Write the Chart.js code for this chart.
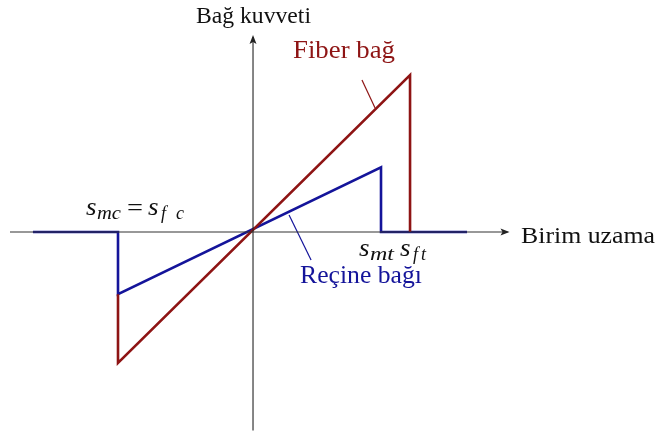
<!DOCTYPE html>
<html lang="tr">
<head>
<meta charset="UTF-8">
<title>Bağ kuvveti - birim uzama</title>
<script src="https://cdn.jsdelivr.net/npm/chart.js@4.4.1/dist/chart.umd.min.js"></script>
<style>
  body { margin: 0; background: #fff; }
  .wrap { width: 659px; height: 432px; position: relative; }
</style>
</head>
<body>
<div class="wrap"><canvas id="c"></canvas></div>
<script>
// strain values (x) and bond force values (y)
const fiberX = [-1.0, -1.0, 1.163, 1.163];
const fiberY = [-0.46, -0.97, 1.163, 0.0];
const resinX = [-1.63, -1.0, -1.0, 0.948, 0.948, 1.585];
const resinY = [0.0, 0.0, -0.46, 0.48, 0.0, 0.0];

// axis extents
const axisX = [-1.80, 1.885];
const axisY = [-1.47, 1.445];

// leader lines from the curves to their labels
const fiberLeadX = [0.807, 0.904];
const fiberLeadY = [1.126, 0.919];
const resinLeadX = [0.267, 0.43];
const resinLeadY = [0.126, -0.207];

const RED = '#8e1414';
const BLUE = '#14149a';
const INK = '#111';
const SERIF = "'Liberation Serif', 'DejaVu Serif', serif";

const pts = (xs, ys) => xs.map((x, i) => ({ x: x, y: ys[i] }));

const line = (data, color, width) => ({
  data: data,
  showLine: true,
  borderColor: color,
  borderWidth: width,
  pointRadius: 0,
  fill: false,
  tension: 0
});

// arrow tips and text labels
const annotate = {
  id: 'annotate',
  afterDatasetsDraw(chart) {
    const ctx = chart.ctx;
    const sx = chart.scales.x, sy = chart.scales.y;
    const px = v => sx.getPixelForValue(v);
    const py = v => sy.getPixelForValue(v);

    ctx.save();
    ctx.fillStyle = '#222';
    // x arrow
    let ex = px(axisX[1]), ey = py(0);
    ctx.beginPath();
    ctx.moveTo(ex + 2, ey);
    ctx.lineTo(ex - 7, ey - 3.5);
    ctx.lineTo(ex - 5, ey);
    ctx.lineTo(ex - 7, ey + 3.5);
    ctx.closePath();
    ctx.fill();
    // y arrow
    ex = px(0); ey = py(axisY[1]);
    ctx.beginPath();
    ctx.moveTo(ex, ey - 2);
    ctx.lineTo(ex - 3.5, ey + 7);
    ctx.lineTo(ex, ey + 5);
    ctx.lineTo(ex + 3.5, ey + 7);
    ctx.closePath();
    ctx.fill();

    // text scaled sideways to a given width
    const fit = (s, x, y, w, font, color) => {
      ctx.font = font;
      ctx.fillStyle = color || INK;
      ctx.textAlign = 'left';
      ctx.textBaseline = 'alphabetic';
      const k = w / ctx.measureText(s).width;
      ctx.save();
      ctx.translate(x, y);
      ctx.scale(k, 1);
      ctx.fillText(s, 0, 0);
      ctx.restore();
    };

    fit('Bağ kuvveti', px(0) - 57, py(1.548), 115, '24px ' + SERIF, INK);
    fit('Birim uzama', px(1.985), py(-0.082), 134, '24px ' + SERIF, INK);
    fit('Fiber bağ', px(0.296), py(1.289), 102, '25px ' + SERIF, RED);
    fit('Reçine bağı', px(0.348), py(-0.378), 122, '25px ' + SERIF, BLUE);

    const IT = 'italic 25px ' + SERIF;
    const SUB = 'italic 18px ' + SERIF;

    // s_m? : subscript written as one piece
    const symM = (sub, x, y) => {
      fit('s', x, y, 10.5, IT);
      fit(sub, x + 11, y + 4, 24, SUB);
    };
    // s_f? : math f keeps a small gap before the next letter
    const symF = (c2, x, y, gap) => {
      fit('s', x, y, 10.5, IT);
      ctx.font = SUB;
      ctx.fillText('f', x + 13, y + 4);
      ctx.fillText(c2, x + gap, y + 4);
    };

    const bx = px(-1.237), by = py(0.126);
    symM('mc', bx, by);
    fit('=', bx + 41, by, 16, '24px ' + SERIF);
    symF('c', bx + 62, by, 28);

    symM('mt', px(0.785), py(-0.178));
    symF('t', px(1.089), py(-0.178), 21);
    ctx.restore();
  }
};

new Chart(document.getElementById('c'), {
  type: 'scatter',
  data: {
    datasets: [
      line(pts(axisX, [0, 0]), '#333', 1.1),
      line(pts([0, 0], axisY), '#222', 1.1),
      line(pts(fiberLeadX, fiberLeadY), RED, 1.2),
      line(pts(resinLeadX, resinLeadY), BLUE, 1.2),
      line(pts(fiberX, fiberY), RED, 2.6),
      line(pts(resinX, resinY), BLUE, 2.6)
    ]
  },
  options: {
    responsive: true,
    maintainAspectRatio: false,
    animation: false,
    layout: { padding: 0 },
    scales: {
      x: { type: 'linear', display: false, min: -1.874, max: 3.007 },
      y: { type: 'linear', display: false, min: -1.481, max: 1.719 }
    },
    plugins: {
      legend: { display: false },
      tooltip: { enabled: false }
    }
  },
  plugins: [annotate]
});
</script>
</body>
</html>
